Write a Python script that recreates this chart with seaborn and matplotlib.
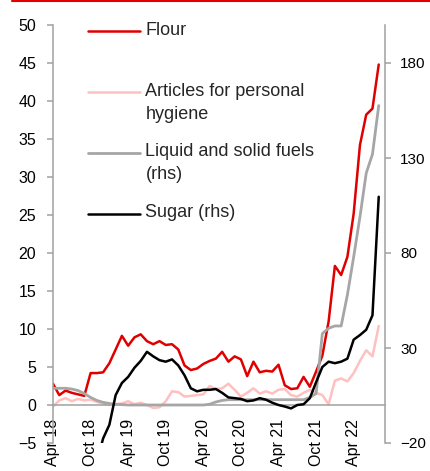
import numpy as np
import pandas as pd
import matplotlib
matplotlib.use("Agg")
import matplotlib.pyplot as plt
from matplotlib.lines import Line2D
from matplotlib.legend_handler import HandlerLine2D
import seaborn as sns

# Monthly data, Apr 18 .. Aug 22 (53 months)
tick_labels = ["Apr 18", "Oct 18", "Apr 19", "Oct 19", "Apr 20",
               "Oct 20", "Apr 21", "Oct 21", "Apr 22"]

# lhs (% y/y)
flour = [2.8, 1.3, 1.9, 1.6, 1.4, 1.2, 4.2, 4.2, 4.3, 5.5,
         7.3, 9.1, 7.8, 8.9, 9.3, 8.4, 8.0, 8.4, 7.9, 8.0,
         7.3, 5.2, 4.6, 4.8, 5.4, 5.8, 6.1, 7.0, 5.7, 6.4,
         6.0, 3.8, 5.7, 4.3, 4.5, 4.4, 5.3, 2.6, 2.1, 2.2,
         3.7, 2.4, 4.4, 6.5, 11.0, 18.3, 17.1, 19.5, 25.2, 34.2,
         38.2, 39.0, 44.8]
hygiene = [-0.2, 0.6, 0.9, 0.5, 0.8, 0.6, 0.7, 0.4, 0.15, 0.0,
           0.1, 0.2, 0.5, 0.1, 0.3, 0.0, -0.4, -0.3, 0.5, 1.8,
           1.7, 1.1, 1.2, 1.3, 1.4, 2.5, 2.1, 2.2, 2.8, 2.0,
           1.1, 1.6, 2.2, 1.5, 1.8, 1.5, 2.0, 2.1, 1.3, 1.1,
           1.6, 2.0, 1.6, 1.3, 0.1, 3.2, 3.5, 3.1, 4.2, 5.8,
           7.2, 6.4, 10.4]

# rhs (% y/y)
fuels = [8.8, 8.8, 8.8, 8.4, 7.6, 6.0, 4.0, 2.4, 1.4, 0.8,
         0.4, 0.2, 0.0, 0.0, 0.0, 0.0, 0.0, 0.0, 0.0, 0.0,
         0.0, 0.0, 0.0, 0.0, 0.0, 0.4, 1.6, 2.4, 2.8, 2.8,
         2.8, 2.8, 2.8, 2.8, 2.8, 2.8, 2.8, 2.8, 2.8, 2.8,
         2.8, 4.0, 6.0, 37.6, 40.4, 41.6, 41.6, 58.0, 78.0, 99.0,
         122.0, 132.0, 157.6]
sugar = [np.nan, np.nan, np.nan, np.nan, np.nan, np.nan, np.nan, -30.0, -17.6, -10.4,
         5.2, 11.6, 14.8, 19.6, 23.2, 28.0, 25.6, 23.6, 22.8, 24.0,
         20.8, 15.6, 8.8, 7.2, 8.0, 8.0, 8.4, 6.4, 4.0, 3.6,
         3.2, 2.0, 2.4, 3.6, 2.8, 1.2, 0.0, -0.8, -1.8, 0.0,
         0.4, 3.6, 12.0, 20.0, 22.8, 22.0, 22.8, 24.4, 34.4, 36.8,
         39.6, 47.2, 109.6]

months = np.arange(len(flour))
df = pd.DataFrame({"month": months, "Flour": flour, "Hygiene": hygiene,
                   "Fuels": fuels, "Sugar": sugar})

RED = "#E00000"
PINK = "#FFC0C0"
GREY = "#A6A6A6"
AXIS = "#A0A0A0"


class FirstLineHandler(HandlerLine2D):
    """Put the legend line next to the first text line (Excel style)."""

    def __init__(self, dy=0.0, **kw):
        super().__init__(**kw)
        self.dy = dy

    def create_artists(self, legend, orig_handle, xdescent, ydescent,
                       width, height, fontsize, trans):
        return super().create_artists(legend, orig_handle, xdescent,
                                      ydescent - 2 * self.dy, width, height,
                                      fontsize, trans)


sns.set_style("white")
plt.rcParams["font.family"] = ["Liberation Sans", "DejaVu Sans"]
plt.rcParams["font.size"] = 10

fig = plt.figure(figsize=(4.31, 4.71), dpi=100)
ax = fig.add_axes([53 / 431, 1 - 443 / 471, 332 / 431, 418 / 471])
ax2 = ax.twinx()

sns.lineplot(data=df, x="month", y="Flour", ax=ax, color=RED, lw=1.8,
             label="Flour\n", legend=False)
sns.lineplot(data=df, x="month", y="Hygiene", ax=ax, color=PINK, lw=1.8,
             label="Articles for personal\nhygiene", legend=False)
sns.lineplot(data=df, x="month", y="Fuels", ax=ax2, color=GREY, lw=2.0,
             label="Liquid and solid fuels\n(rhs)", legend=False)
sns.lineplot(data=df, x="month", y="Sugar", ax=ax2, color="black", lw=1.8,
             label="Sugar (rhs)\n", legend=False)

ax.set_xlim(0, 53)
ax.set_ylim(-5, 50)
ax2.set_ylim(-20, 200)
ax.set_yticks(np.arange(-5, 51, 5))
ax2.set_yticks([-20, 30, 80, 130, 180])
ax.set_xticks(np.arange(0, 49, 6))
ax.set_xticklabels(tick_labels)
for a in (ax, ax2):
    a.set_xlabel("")
    a.set_ylabel("")
    a.grid(False)

# spines
for a in (ax, ax2):
    for s in a.spines.values():
        s.set_visible(False)
ax.spines["left"].set_visible(True)
ax.spines["left"].set_color(AXIS)
ax.spines["left"].set_linewidth(1.1)
ax.spines["bottom"].set_visible(True)
ax.spines["bottom"].set_color(AXIS)
ax.spines["bottom"].set_linewidth(1.1)
ax.spines["bottom"].set_position(("data", 0))
ax2.spines["right"].set_visible(True)
ax2.spines["right"].set_color(AXIS)
ax2.spines["right"].set_linewidth(1.1)

ax.tick_params(axis="y", direction="out", length=4, width=1.1, color=AXIS,
               labelcolor="black", pad=8, labelsize=11.5)
ax2.tick_params(axis="y", direction="out", length=4, width=1.1, color=AXIS,
                labelcolor="black", pad=7, labelsize=11)
ax.tick_params(axis="x", direction="out", length=4, width=1.1, color=AXIS,
               labelcolor="black", pad=6, labelsize=11.5, labelrotation=90)

# legend from both axes, entries on an even pitch
h1, l1 = ax.get_legend_handles_labels()
h2, l2 = ax2.get_legend_handles_labels()
shift = 10.75 * 72 / 100  # half a text line, in points
leg = ax2.legend(h1 + h2, l1 + l2, loc="upper left",
                 bbox_to_anchor=((88 - 53) / 332, 1.0075),
                 frameon=False, fontsize=13, borderpad=0, borderaxespad=0,
                 handlelength=2.9, handletextpad=0.28, labelspacing=1.16,
                 handler_map={Line2D: FirstLineHandler(dy=shift)})
for t in leg.get_texts():
    t.set_linespacing(1.45)

# red header rule
fig.add_artist(Line2D([12 / 431, 1], [1 - 1 / 471, 1 - 1 / 471],
                      transform=fig.transFigure, color=RED, lw=1.5))

fig.savefig("out.png", dpi=100)
